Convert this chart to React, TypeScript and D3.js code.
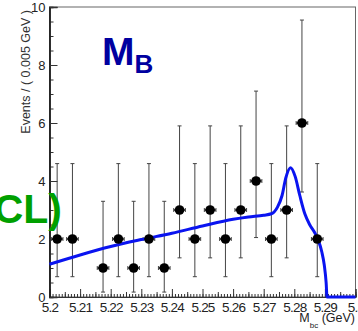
import React, { useRef, useEffect } from "react";
import * as d3 from "d3";

// histogram bins (5 MeV wide), centres in GeV
const binCenters = [
  5.2025, 5.2075, 5.2125, 5.2175, 5.2225, 5.2275, 5.2325, 5.2375, 5.2425, 5.2475,
  5.2525, 5.2575, 5.2625, 5.2675, 5.2725, 5.2775, 5.2825, 5.2875, 5.2925, 5.2975,
];
const counts = [2, 2, 0, 1, 2, 1, 2, 1, 3, 2, 3, 2, 3, 4, 2, 3, 6, 2, 0, 0];
// asymmetric error bar ends
const errLow = [0.7, 0.7, 0, 0.17, 0.7, 0.17, 0.7, 0.17, 1.35, 0.7, 1.35, 0.7, 1.35, 2.05, 0.7, 1.35, 3.62, 0.7, 0, 0];
const errHigh = [4.6, 4.6, 0, 3.3, 4.6, 3.3, 4.6, 3.3, 5.9, 4.6, 5.9, 4.6, 5.9, 7.1, 4.6, 5.9, 9.55, 4.6, 0, 0];

// fitted curve
const fitX = [
  5.2, 5.21, 5.22, 5.23, 5.24, 5.25, 5.26, 5.265, 5.27, 5.2725, 5.2745, 5.276, 5.2772,
  5.2788, 5.2803, 5.2818, 5.2835, 5.285, 5.2865, 5.2878, 5.289, 5.2898, 5.2904, 5.2907, 5.3,
];
const fitY = [
  1.13, 1.45, 1.74, 1.98, 2.2, 2.45, 2.68, 2.76, 2.82, 2.87, 3.1, 3.5, 4.1,
  4.46, 4.15, 3.5, 2.85, 2.5, 2.25, 1.97, 1.55, 1.1, 0.5, 0, 0,
];

const xTicks = [5.2, 5.21, 5.22, 5.23, 5.24, 5.25, 5.26, 5.27, 5.28, 5.29, 5.3];
const xTickLabels = ["5.2", "5.21", "5.22", "5.23", "5.24", "5.25", "5.26", "5.27", "5.28", "5.29", "5.3"];
const yTicks = [0, 2, 4, 6, 8, 10];
const yTickLabels = ["0", "2", "4", "6", "8", "10"];

export default function App() {
  const svgRef = useRef<SVGSVGElement>(null);

  useEffect(() => {
    const svg = d3.select(svgRef.current);
    svg.selectAll("*").remove();

    const left = 49.5, right = 355.5, top = 7, bottom = 297;
    const x = d3.scaleLinear().domain([5.2, 5.3]).range([left, right]);
    const y = d3.scaleLinear().domain([0, 10]).range([bottom, top]);
    const font = "'Liberation Sans', Arial, sans-serif";

    svg.append("rect").attr("width", 358).attr("height", 331).attr("fill", "white");

    // frame
    svg.append("rect")
      .attr("x", left).attr("y", top)
      .attr("width", right - left).attr("height", bottom - top)
      .attr("fill", "none").attr("stroke", "#666").attr("stroke-width", 1);

    // x axis: minor, medium, major ticks
    const gx = svg.append("g").attr("transform", `translate(0,${bottom})`);
    gx.call(d3.axisBottom(x).tickValues(d3.range(0, 101).map(i => 5.2 + i * 0.001)).tickSize(-3).tickFormat(() => ""));
    gx.append("g").call(d3.axisBottom(x).tickValues(d3.range(0, 10).map(i => 5.205 + i * 0.01)).tickSize(-5).tickFormat(() => ""));
    gx.append("g").call(d3.axisBottom(x).tickValues(xTicks).tickSize(-8).tickPadding(5)
      .tickFormat((d, i) => xTickLabels[i]));
    gx.selectAll(".domain").attr("stroke", "#333");
    gx.selectAll("line").attr("stroke", "#333");
    gx.selectAll("text").attr("fill", "#222").style("font-family", font).style("font-size", "13.5px")
      .attr("letter-spacing", "-0.8");

    // y axis
    const gy = svg.append("g").attr("transform", `translate(${left},0)`);
    gy.call(d3.axisLeft(y).tickValues(d3.range(0, 21).map(i => i * 0.5)).tickSize(-4).tickFormat(() => ""));
    gy.append("g").call(d3.axisLeft(y).tickValues(yTicks).tickSize(-8).tickPadding(4)
      .tickFormat((d, i) => yTickLabels[i]));
    gy.selectAll(".domain").attr("stroke", "#222").attr("stroke-width", 1.5);
    gy.selectAll("line").attr("stroke", "#333");
    gy.selectAll("text").attr("fill", "#222").style("font-family", font).style("font-size", "13px");

    // axis titles
    svg.append("text")
      .attr("transform", `translate(30,10) rotate(-90)`)
      .attr("text-anchor", "end")
      .style("font-family", font).style("font-size", "12.5px").attr("fill", "#333")
      .text("Events / ( 0.005 GeV )");

    const xt = svg.append("text")
      .attr("x", 355).attr("y", 322).attr("text-anchor", "end")
      .style("font-family", font).style("font-size", "12.5px").attr("fill", "#222");
    xt.append("tspan").text("M");
    xt.append("tspan").attr("dy", 6).style("font-size", "8px").text("bc");
    xt.append("tspan").attr("dy", -6).text(" (GeV)");

    // data points
    const pts = binCenters.map((c, i) => ({ c, n: counts[i], lo: errLow[i], hi: errHigh[i] })).filter(d => d.n > 0);
    const halfW = 0.0019;
    const eb = svg.append("g").attr("stroke", "#444").attr("stroke-width", 1);
    pts.forEach(d => {
      eb.append("line").attr("x1", x(d.c)).attr("x2", x(d.c)).attr("y1", y(d.lo)).attr("y2", y(d.hi));
      eb.append("line").attr("x1", x(d.c) - 2).attr("x2", x(d.c) + 2).attr("y1", y(d.hi)).attr("y2", y(d.hi));
      eb.append("line").attr("x1", x(d.c) - 2).attr("x2", x(d.c) + 2).attr("y1", y(d.lo)).attr("y2", y(d.lo));
      eb.append("line").attr("x1", x(d.c - halfW)).attr("x2", x(d.c + halfW)).attr("y1", y(d.n)).attr("y2", y(d.n))
        .attr("stroke", "#111").attr("stroke-width", 1.5);
      eb.append("line").attr("x1", x(d.c - halfW)).attr("x2", x(d.c - halfW)).attr("y1", y(d.n) - 2).attr("y2", y(d.n) + 2);
      eb.append("line").attr("x1", x(d.c + halfW)).attr("x2", x(d.c + halfW)).attr("y1", y(d.n) - 2).attr("y2", y(d.n) + 2);
    });

    // fit curve
    const fit = fitX.map((v, i) => [v, fitY[i]] as [number, number]);
    svg.append("path")
      .datum(fit)
      .attr("fill", "none")
      .attr("stroke", "#0a14f0")
      .attr("stroke-width", 3)
      .attr("d", d3.line<[number, number]>().x(d => x(d[0])).y(d => y(d[1])).curve(d3.curveMonotoneX));

    svg.selectAll(".pt")
      .data(pts)
      .enter().append("circle")
      .attr("cx", d => x(d.c)).attr("cy", d => y(d.n)).attr("r", 4.8).attr("fill", "black");

    // labels
    const mb = svg.append("text")
      .attr("x", 102).attr("y", 65)
      .style("font-family", font).style("font-weight", "bold").attr("fill", "#0000a0");
    mb.append("tspan").style("font-size", "39px").text("M");
    mb.append("tspan").attr("dy", 8).style("font-size", "26px").text("B");

    svg.append("text")
      .attr("x", 62).attr("y", 223).attr("text-anchor", "end")
      .style("font-family", font).style("font-weight", "bold").style("font-size", "41px")
      .attr("fill", "#00a000")
      .text("CL)");
  }, []);

  return (
    <svg ref={svgRef} width={358} height={331}
      style={{ position: "absolute", left: 0, top: 0, display: "block" }} />
  );
}
